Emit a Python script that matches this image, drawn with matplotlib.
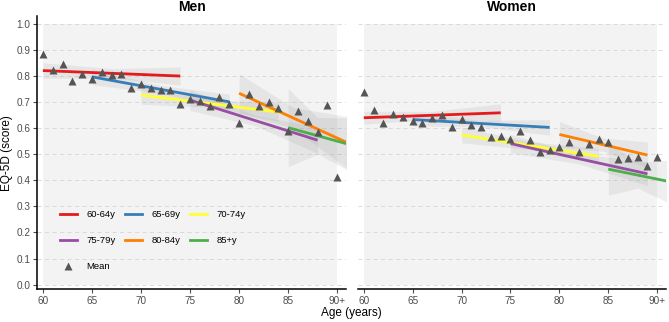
import numpy as np
import matplotlib
matplotlib.use("Agg")
import matplotlib.pyplot as plt
from matplotlib.lines import Line2D

plt.rcParams["font.family"] = ["Liberation Sans", "DejaVu Sans"]

# ---- data
ages = [60, 61, 62, 63, 64, 65, 66, 67, 68, 69, 70, 71, 72, 73, 74, 75,
        76, 77, 78, 79, 80, 81, 82, 83, 84, 85, 86, 87, 88, 89, 90]
age_ticks = [60, 65, 70, 75, 80, 85, 90]
age_tick_labels = ["60", "65", "70", "75", "80", "85", "90+"]

men_mean = [0.885, 0.823, 0.846, 0.782, 0.808, 0.788, 0.815, 0.805, 0.809, 0.754,
            0.768, 0.753, 0.746, 0.746, 0.692, 0.713, 0.705, 0.685, 0.718, 0.692,
            0.618, 0.732, 0.684, 0.701, 0.677, 0.591, 0.665, 0.627, 0.585, 0.689, 0.412]
women_mean = [0.737, 0.669, 0.618, 0.654, 0.644, 0.628, 0.621, 0.641, 0.649, 0.603,
              0.636, 0.612, 0.603, 0.567, 0.569, 0.558, 0.590, 0.556, 0.508, 0.515,
              0.528, 0.547, 0.509, 0.538, 0.557, 0.547, 0.480, 0.484, 0.488, 0.456, 0.488]

cohorts = ["60-64y", "65-69y", "70-74y", "75-79y", "80-84y", "85+y"]
cohort_colors = ["#E41A1C", "#377EB8", "#FFFF33", "#984EA3", "#FF7F00", "#4DAF4A"]

# fitted trend per cohort: (age start, age end), (fit at start, fit at end)
men_x = [(60, 74), (65, 79), (70, 84), (75, 88), (80, 91), (85, 91)]
men_fit = [(0.821, 0.800), (0.797, 0.701), (0.727, 0.662), (0.708, 0.554),
           (0.734, 0.545), (0.602, 0.540)]
# CI half-width at start, middle, end
men_ci = [(0.03, 0.018, 0.035), (0.03, 0.015, 0.03), (0.035, 0.015, 0.035),
          (0.04, 0.02, 0.05), (0.075, 0.04, 0.10), (0.15, 0.07, 0.10)]

women_x = [(60, 74), (65, 79), (70, 84), (75, 89), (80, 89), (85, 91)]
women_fit = [(0.640, 0.659), (0.633, 0.603), (0.574, 0.492), (0.541, 0.425),
             (0.576, 0.497), (0.443, 0.397)]
women_ci = [(0.025, 0.015, 0.035), (0.025, 0.012, 0.03), (0.03, 0.015, 0.03),
            (0.035, 0.02, 0.045), (0.05, 0.025, 0.05), (0.10, 0.05, 0.08)]

score_ticks = [0.0, 0.1, 0.2, 0.3, 0.4, 0.5, 0.6, 0.7, 0.8, 0.9, 1.0]


def draw_panel(ax, title, mean, xs, fits, cis):
    # faint individual-trajectory haze
    ax.fill_between([ages[0], ages[-1]], score_ticks[0], score_ticks[-1],
                    color="#f3f3f3", lw=0, zorder=0)
    for yv in score_ticks:
        ax.axhline(yv, color="#d6d6d6", lw=0.6, ls=(0, (5, 4)), zorder=1)
    for (x0, x1), (f0, f1), (w0, wm, w1), col in zip(xs, fits, cis, cohort_colors):
        xx = np.linspace(x0, x1, 40)
        ff = np.interp(xx, [x0, x1], [f0, f1])
        ww = np.interp(xx, [x0, (x0 + x1) / 2, x1], [w0, wm, w1])
        ax.fill_between(xx, ff - ww, ff + ww, color="#9a9a9a", alpha=0.15, lw=0, zorder=2)
        ax.plot([x0, x1], [f0, f1], color=col, lw=2.0, solid_capstyle="butt", zorder=4)
    ax.plot(ages, mean, "^", color="#555555", ms=6, mec="none", zorder=5)

    ax.set_xlim(59.4, 90.9)
    ax.set_ylim(-0.018, 1.03)
    ax.set_xticks(age_ticks)
    ax.set_xticklabels(age_tick_labels)
    ax.set_yticks(score_ticks)
    ax.set_yticklabels([f"{v:.1f}" for v in score_ticks])
    ax.tick_params(labelsize=7.2, colors="#4d4d4d", length=3, width=0.8, pad=1.5)
    for s in ["top", "right"]:
        ax.spines[s].set_visible(False)
    ax.spines["bottom"].set_linewidth(1.1)
    ax.spines["left"].set_linewidth(1.1)
    ax.set_title(title, fontsize=10, fontweight="bold", pad=4)


fig = plt.figure(figsize=(6.69, 3.22), dpi=100)
axM = fig.add_axes([0.0553, 0.1016, 0.4619, 0.8484])
axW = fig.add_axes([0.535, 0.1016, 0.4605, 0.8484])

draw_panel(axM, "Men", men_mean, men_x, men_fit, men_ci)
draw_panel(axW, "Women", women_mean, women_x, women_fit, women_ci)
axW.spines["left"].set_visible(False)
axW.tick_params(axis="y", left=False, labelleft=False)

axM.set_ylabel("EQ-5D (score)", fontsize=8.5, labelpad=3)
fig.text(0.525, 0.028, "Age (years)", ha="center", va="center", fontsize=8.5)

h = [Line2D([], [], color=c, lw=2.0) for c in cohort_colors]
mean_h = Line2D([], [], ls="", marker="^", color="#555555", ms=6, mec="none")
blank = Line2D([], [], ls="", marker="")
handles = [h[0], h[3], mean_h, h[1], h[4], blank, h[2], h[5], blank]
labels = [cohorts[0], cohorts[3], "Mean", cohorts[1], cohorts[4], "", cohorts[2], cohorts[5], ""]
axM.legend(handles, labels, loc="upper left", bbox_to_anchor=(0.074, 0.29), ncol=3,
           frameon=False, fontsize=6.8, borderpad=0, borderaxespad=0, handlelength=1.8,
           handletextpad=1.0, columnspacing=1.0, labelspacing=1.8)

fig.savefig("out.png", dpi=100)
